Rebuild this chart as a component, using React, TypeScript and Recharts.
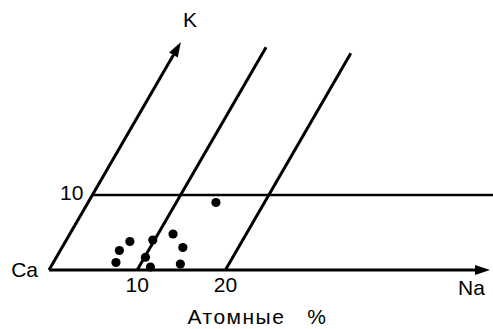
import { Label, ReferenceDot, ReferenceLine, Scatter, ScatterChart, XAxis, YAxis } from 'recharts'

// oblique diagram: Na along the base, K along the slanted axis
const SHEAR = 0.492 // horizontal shift (in Na units) per unit of K

const naValues = [14.5, 7.3, 6.7, 7.1, 9.8, 10.1, 11.3, 11.7, 13.7, 14.5]
const kValues = [9.0, 3.8, 2.6, 1.0, 4.0, 1.7, 0.4, 4.8, 3.0, 0.8]

const naTicks = [10, 20]
const naLineTops = [29.7, 28.9]
const kAxisTop = 30.4
const kLevels = [10]
const naAxisEnd = 50

const skew = (na: number, k: number) => na + k * SHEAR

const points = naValues.map((na, i) => ({ u: skew(na, kValues[i]), k: kValues[i] }))

const INK = '#000'
const FONT = '"Liberation Sans", Arial, sans-serif'

const arrowLine = (props: any) => {
  const { x1, y1, x2, y2 } = props
  const dx = x2 - x1
  const dy = y2 - y1
  const len = Math.hypot(dx, dy) || 1
  const ux = dx / len
  const uy = dy / len
  const head = 15
  const half = 5
  const bx = x2 - ux * head
  const by = y2 - uy * head
  return (
    <g>
      <line x1={x1} y1={y1} x2={bx + ux * 2} y2={by + uy * 2} stroke={INK} strokeWidth={3} />
      <polygon
        points={`${x2},${y2} ${bx - uy * half},${by + ux * half} ${bx + uy * half},${by - ux * half}`}
        fill={INK}
      />
    </g>
  )
}

const dot = (props: any) => <circle cx={props.cx} cy={props.cy} r={4.6} fill={INK} />

const textProps = { fill: INK, fontSize: 21, fontFamily: FONT }

export default function App() {
  return (
    <div style={{ width: 493, height: 329 }}>
      <style>{'body{margin:0}'}</style>
      <ScatterChart width={493} height={329} margin={{ top: 0, right: 3, bottom: 0, left: 49 }} style={{ fontFamily: FONT }}>
        <XAxis
          type="number"
          dataKey="u"
          domain={[0, naAxisEnd]}
          ticks={naTicks}
          axisLine={false}
          tickLine={false}
          height={59}
          tick={{ fill: INK, fontSize: 21, fontFamily: FONT }}
          tickMargin={1}
        >
          <Label
            value={'Атомные\u00a0\u00a0\u00a0%'}
            position="insideBottom"
            offset={5}
            dx={-12}
            letterSpacing={1.5}
            {...textProps}
          />
        </XAxis>
        <YAxis type="number" dataKey="k" domain={[0, 36]} hide />

        {/* base (Na) axis */}
        <ReferenceLine
          segment={[{ x: 0, y: 0 }, { x: naAxisEnd, y: 0 }]}
          ifOverflow="visible"
          shape={arrowLine}
        />
        {/* slanted K axis */}
        <ReferenceLine
          segment={[{ x: 0, y: 0 }, { x: skew(0, kAxisTop), y: kAxisTop }]}
          ifOverflow="visible"
          shape={arrowLine}
        />
        {naTicks.map((na, i) => (
          <ReferenceLine
            key={`na-${na}`}
            segment={[{ x: skew(na, 0), y: 0 }, { x: skew(na, naLineTops[i]), y: naLineTops[i] }]}
            ifOverflow="visible"
            stroke={INK}
            strokeWidth={3}
          />
        ))}
        {kLevels.map((k) => (
          <ReferenceLine
            key={`k-${k}`}
            segment={[{ x: skew(0, k), y: k }, { x: 50.5, y: k }]}
            ifOverflow="visible"
            stroke={INK}
            strokeWidth={2.6}
          />
        ))}

        <Scatter data={points} shape={dot} isAnimationActive={false} />

        <ReferenceDot x={0} y={0} r={0} ifOverflow="visible">
          <Label value="Ca" position="left" offset={11} {...textProps} />
        </ReferenceDot>
        {kLevels.map((k) => (
          <ReferenceDot key={`kl-${k}`} x={skew(0, k)} y={k} r={0} ifOverflow="visible">
            <Label value={String(k)} position="left" offset={9} dy={-2} {...textProps} />
          </ReferenceDot>
        ))}
        <ReferenceDot x={16.0} y={33.4} r={0} ifOverflow="visible">
          <Label value="K" position="center" {...textProps} />
        </ReferenceDot>
        <ReferenceDot x={47.9} y={-2.4} r={0} ifOverflow="visible">
          <Label value="Na" position="center" {...textProps} />
        </ReferenceDot>
      </ScatterChart>
    </div>
  )
}
